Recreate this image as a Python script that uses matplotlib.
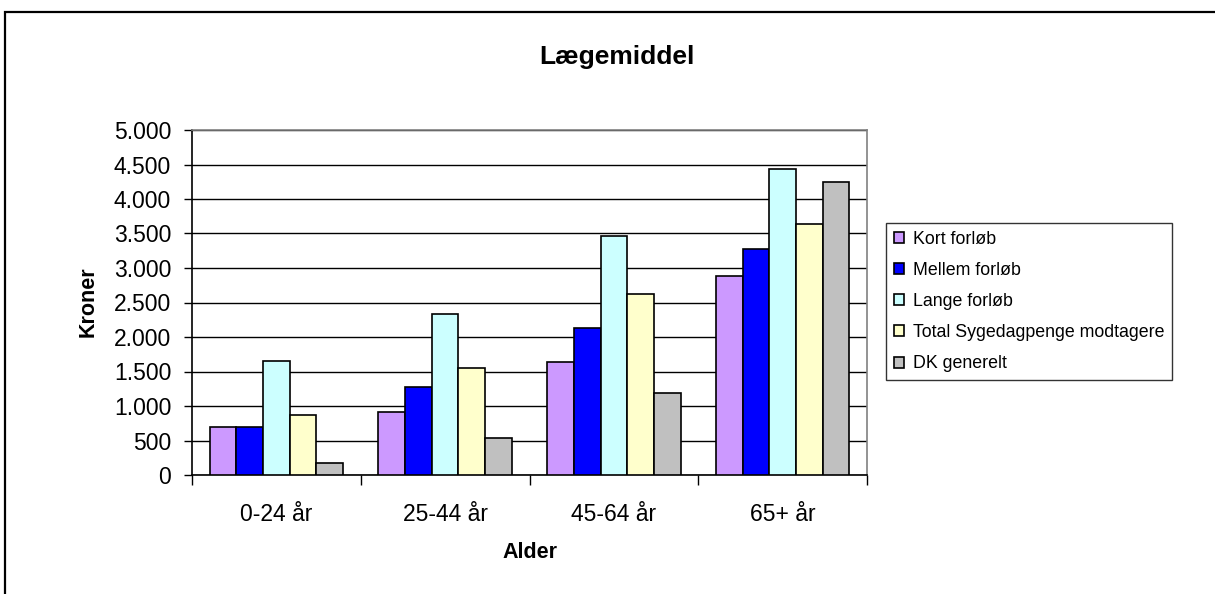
import matplotlib
matplotlib.use("Agg")
import matplotlib.pyplot as plt
from matplotlib.ticker import FuncFormatter, FixedLocator, NullFormatter
from matplotlib.patches import Rectangle
import numpy as np

plt.rcParams['font.family'] = ['Liberation Sans', 'DejaVu Sans']

categories = ["0-24 år", "25-44 år", "45-64 år", "65+ år"]
series_names = ["Kort forløb", "Mellem forløb", "Lange forløb",
                "Total Sygedagpenge modtagere", "DK generelt"]
kort = [700, 913, 1643, 2889]
mellem = [700, 1280, 2135, 3280]
lange = [1652, 2329, 3469, 4440]
total = [870, 1546, 2619, 3638]
dk = [169, 532, 1184, 4246]
values = [kort, mellem, lange, total, dk]
colors = ["#CC99FF", "#0000FF", "#CCFFFF", "#FFFFCC", "#C0C0C0"]

W, H = 1215, 594
fig = plt.figure(figsize=(W / 100, H / 100), dpi=100)
left, right, top, bottom = 192, 867, 130, 475
ax = fig.add_axes([left / W, 1 - bottom / H, (right - left) / W, (bottom - top) / H])

n = len(values)
bw = 0.158
x = np.arange(len(categories))
for i, (vals, c, name) in enumerate(zip(values, colors, series_names)):
    offs = (i - (n - 1) / 2) * bw
    ax.bar(x + offs, vals, width=bw, color=c, edgecolor='black', linewidth=1.2,
           label=name, zorder=3)

ax.set_xlim(-0.5, len(categories) - 0.5)
ax.set_ylim(0, 5000)
ax.set_yticks(np.arange(0, 5001, 500))
ax.yaxis.set_major_formatter(FuncFormatter(lambda v, p: f"{int(v):,}".replace(",", ".")))
ax.yaxis.grid(True, color='black', linewidth=1.0, zorder=0)
ax.set_axisbelow(True)

ax.xaxis.set_major_locator(FixedLocator(np.arange(-0.5, len(categories), 1.0)))
ax.xaxis.set_major_formatter(NullFormatter())
ax.xaxis.set_minor_locator(FixedLocator(x))
ax.set_xticklabels(categories, minor=True)
ax.tick_params(axis='x', which='minor', length=0, labelsize=16.5, pad=20)
ax.tick_params(axis='x', which='major', length=7, width=1, direction='out')
ax.tick_params(axis='y', length=6, width=1, direction='out', labelsize=16.5, pad=9)

for s in ['top', 'right']:
    ax.spines[s].set_color('#808080')
    ax.spines[s].set_linewidth(1.2)
for s in ['left', 'bottom']:
    ax.spines[s].set_color('black')
    ax.spines[s].set_linewidth(1.2)

fig.text(617 / W, 1 - 57 / H, "Lægemiddel", ha='center', va='center',
         fontsize=19, fontweight='bold')
fig.text(530 / W, 1 - 552 / H, "Alder", ha='center', va='center',
         fontsize=15.5, fontweight='bold')
fig.text(88 / W, 1 - 302 / H, "Kroner", ha='center', va='center',
         fontsize=15.5, fontweight='bold', rotation=90)

leg = fig.legend(loc='upper left', bbox_to_anchor=(886 / W, 1 - 222.5 / H),
                 frameon=True, fancybox=False, edgecolor='black', fontsize=12.8,
                 handlelength=0.56, handleheight=0.56, handletextpad=0.5,
                 labelspacing=0.8, borderpad=0.45, borderaxespad=0)
leg.get_frame().set_linewidth(1.0)

# outer chart border (left and top visible; right/bottom cut off)
fig.patches.append(Rectangle((5 / W, -0.05), 1.2, 1 - 12 / H + 0.05,
                             transform=fig.transFigure, fill=False,
                             edgecolor='black', linewidth=1.6))

fig.savefig("out.png", dpi=100)
